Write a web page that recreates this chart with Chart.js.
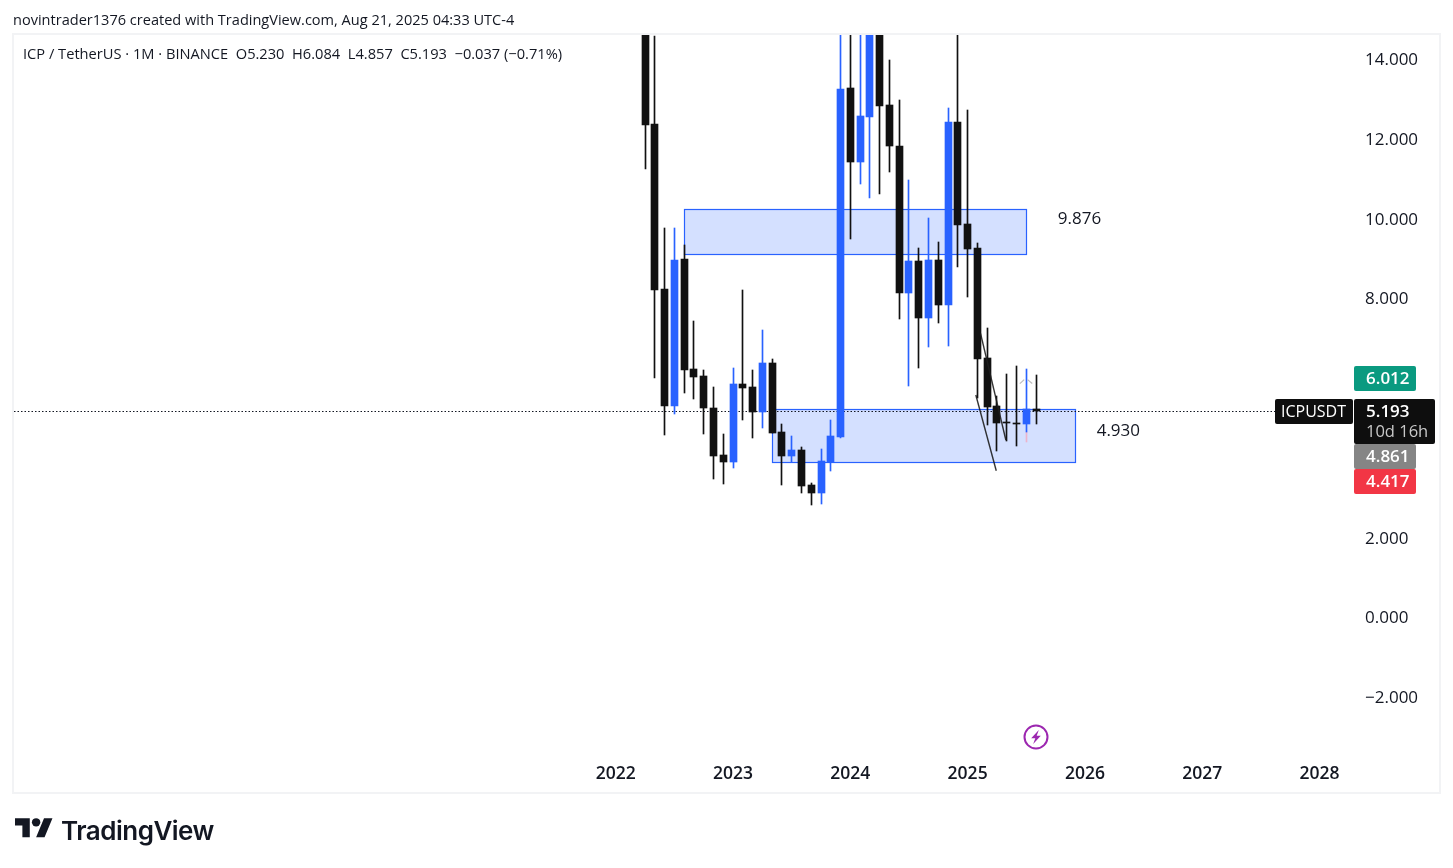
<!DOCTYPE html>
<html>
<head>
<meta charset="utf-8">
<title>ICPUSDT monthly</title>
<script src="https://cdn.jsdelivr.net/npm/chart.js@4/dist/chart.umd.min.js"></script>
<style>
  html, body { margin: 0; padding: 0; background: #fff; width: 1453px; height: 868px; overflow: hidden; }
  body { position: relative; font-family: "Open Sans", sans-serif; color: #131722; }
  #frame { position: absolute; left: 12px; top: 33px; width: 1425px; height: 757px; border: 2px solid #f2f3f5; }
  #chart { position: absolute; left: 0; top: 0; }
  .line { position: absolute; white-space: pre; line-height: 18px; }
  #credit { left: 13px; top: 10px; font-size: 14.55px; }
  #legend { left: 23px; top: 44px; font-size: 14.65px; }
  #logo { position: absolute; left: 15px; top: 816px; }
  #brand { position: absolute; left: 61px; top: 813px; font: 600 26px/36px Inter, sans-serif; letter-spacing: -0.5px; color: #131722; }
  #bolt { position: absolute; left: 1023px; top: 724px; }
</style>
</head>
<body>
<div id="frame"></div>
<canvas id="chart" width="1453" height="868"></canvas>
<div class="line" id="credit">novintrader1376 created with TradingView.com, Aug 21, 2025 04:33 UTC-4</div>
<div class="line" id="legend">ICP / TetherUS · 1M · BINANCE  O5.230  H6.084  L4.857  C5.193  −0.037 (−0.71%)</div>
<svg id="logo" width="38" height="24" viewBox="0 2 36 22.7"><path fill="#131722" d="M14 22H7V11H0V4h14v18zM28 22h-8l7.5-18h8L28 22z"/><circle fill="#131722" cx="20" cy="8" r="4"/></svg>
<div id="brand">TradingView</div>
<svg id="bolt" width="26" height="26" viewBox="0 0 26 26"><circle cx="13" cy="13" r="11.5" fill="#fff" stroke="#9c27b0" stroke-width="2"/><path fill="#9c27b0" d="M15.8 6 8.2 14.2h4.1l-2.1 5.8 7.6-8.2h-4.1z"/></svg>
<script>
// Monthly candles, ICP / TetherUS on Binance
const months = ["2022-04","2022-05","2022-06","2022-07","2022-08","2022-09","2022-10","2022-11","2022-12",
  "2023-01","2023-02","2023-03","2023-04","2023-05","2023-06","2023-07","2023-08","2023-09","2023-10","2023-11","2023-12",
  "2024-01","2024-02","2024-03","2024-04","2024-05","2024-06","2024-07","2024-08","2024-09","2024-10","2024-11","2024-12",
  "2025-01","2025-02","2025-03","2025-04","2025-05","2025-06","2025-07","2025-08"];
const opens  = [18.5,12.38,8.24,5.32,9.0,6.24,6.06,5.26,4.08,
  3.91,5.86,5.79,5.17,6.39,4.66,4.06,4.2,3.33,3.13,3.9,4.54,
  13.28,11.44,12.55,15.3,12.86,11.83,8.15,8.95,7.52,8.97,7.83,12.43,
  9.87,9.27,6.51,5.31,4.91,4.89,4.86,5.230];
const closes = [12.36,8.22,5.32,8.97,6.22,6.04,5.27,4.06,3.91,
  5.86,5.76,5.17,6.39,4.64,4.06,4.2,3.31,3.13,3.93,4.56,13.26,
  11.44,12.58,15.3,12.84,11.82,8.15,8.95,7.52,8.97,7.83,12.43,9.85,
  9.25,6.5,5.29,4.89,4.88,4.85,5.23,5.193];
const highs  = [21.0,14.59,9.78,9.78,9.35,7.44,6.21,5.79,4.61,
  6.26,8.22,6.21,7.21,6.49,4.86,4.56,4.28,3.38,4.23,4.96,16.0,
  15.5,16.0,18.0,19.0,13.99,12.99,10.98,9.27,10.03,9.42,12.78,15.5,
  12.73,9.4,7.27,5.56,6.11,6.31,6.24,6.084];
const lows   = [11.26,6.02,4.59,5.12,5.64,5.49,4.61,3.48,3.35,
  3.75,4.96,4.51,4.76,4.64,3.33,3.9,3.13,2.82,2.85,3.68,4.51,
  9.5,10.88,10.53,10.63,11.19,7.49,5.82,6.27,6.8,7.4,6.82,8.8,
  8.04,5.5,4.83,4.19,4.43,4.31,4.66,4.857];

// Pale tail under the July 2025 wick
const tailIndex = [42];
const tailRange = [4.41, 4.66];

// Supply and demand zones, in months since 2022-01 and price
const zoneStart  = [7, 16];
const zoneEnd    = [42, 47];
const zoneTop    = [10.243, 5.215];
const zoneBottom = [9.114, 3.885];

// Hand-drawn trend strokes
const strokeAIndex = [37.32, 39.91];
const strokeAPrice = [7.13, 4.455];
const strokeBIndex = [36.84, 38.93];
const strokeBPrice = [5.585, 3.685];
const arrowLeftIndex  = [41.34, 41.79];
const arrowLeftPrice  = [5.87, 5.97];
const arrowRightIndex = [42.13, 42.61];
const arrowRightPrice = [5.97, 5.87];

// Text notes on the pane
const noteText  = ["9.876", "4.930"];
const noteIndex = [47.45, 51.42];
const notePrice = [10.0, 4.68];

// Axis labels and price tags
const yearLabels = [2022, 2023, 2024, 2025, 2026, 2027, 2028];
const priceTicks = [-2, 0, 2, 4, 6, 8, 10, 12, 14];
const lastPrice = 5.193;
const countdown = "10d 16h";
const symbol = "ICPUSDT";
const highTag = 6.012;
const midTag = 4.861;
const lowTag = 4.417;

const UP = "#2962ff", DOWN = "#111111";
const FONT = '"Open Sans", sans-serif';
const monthIndex = months.map(m => { const [y, mo] = m.split("-").map(Number); return (y - 2022) * 12 + mo - 1; });
const candleColors = opens.map((o, i) => closes[i] >= o ? UP : DOWN);
const X_MIN = -61.57, X_MAX = 75.43, Y_MIN = -3.372, Y_MAX = 14.616;

const pts = (xs, ys) => xs.map((x, i) => ({ x, y: ys[i] }));
const stroke = (label, xs, ys, color, width) => ({
  type: "line", label, data: pts(xs, ys), borderColor: color, borderWidth: width,
  pointRadius: 0, tension: 0, order: 0, fill: false
});

// Zones sit under the candles
const zonesPlugin = {
  id: "zones",
  beforeDatasetsDraw(chart) {
    const { ctx, scales: { x, y } } = chart;
    ctx.save();
    zoneStart.forEach((s, i) => {
      const l = Math.floor(x.getPixelForValue(s)) + 0.5, r = Math.floor(x.getPixelForValue(zoneEnd[i])) + 0.5;
      const t = Math.floor(y.getPixelForValue(zoneTop[i])) + 0.5, b = Math.floor(y.getPixelForValue(zoneBottom[i])) + 0.5;
      ctx.fillStyle = "rgba(41,98,255,0.2)";
      ctx.fillRect(l, t, r - l, b - t);
      ctx.strokeStyle = "#2962ff";
      ctx.lineWidth = 1.2;
      ctx.strokeRect(l, t, r - l, b - t);
    });
    ctx.restore();
  }
};

// Keep candles and the price line on whole device pixels
const snapPlugin = {
  id: "snap",
  afterDatasetsUpdate(chart) {
    chart.data.datasets.forEach((ds, i) => {
      const meta = chart.getDatasetMeta(i);
      if (ds.type === "bar") {
        meta.data.forEach(el => {
          el.x = Math.floor(el.x) + 0.5;
          el.y = Math.round(el.y);
          el.base = Math.round(el.base);
          if (Math.abs(el.base - el.y) < 1) el.base = el.y + 1;
        });
      } else if (ds.label === "Last price") {
        meta.data.forEach(el => { el.y = Math.round(el.y) + 0.5; });
      }
    });
  }
};

function tag(ctx, x, y, w, h, color) {
  ctx.fillStyle = color;
  ctx.beginPath();
  ctx.roundRect(x, y, w, h, 2);
  ctx.fill();
}

// Notes and the tag column on the price axis
const overlayPlugin = {
  id: "overlay",
  afterDraw(chart) {
    const { ctx, scales: { x, y } } = chart;
    ctx.save();
    ctx.textBaseline = "middle";
    ctx.textAlign = "center";
    ctx.font = "500 17px " + FONT;
    ctx.fillStyle = "#131722";
    noteText.forEach((t, i) => ctx.fillText(t, x.getPixelForValue(noteIndex[i]), y.getPixelForValue(notePrice[i])));

    const left = 1354, w = 62, h = 25;
    const lastY = Math.round(y.getPixelForValue(lastPrice));
    const top = lastY - 12;
    const label = (text, cy, color) => { ctx.fillStyle = color; ctx.textAlign = "left"; ctx.font = "600 17px " + FONT; ctx.fillText(text, left + 12, cy); };

    const hiTop = Math.round(y.getPixelForValue(highTag)) - 12;
    tag(ctx, left, hiTop, w, h, "#0a9a80");
    label(highTag.toFixed(3), hiTop + 13, "#fff");

    tag(ctx, left - 79, top, 78, h, "#0e0e0e");
    ctx.fillStyle = "#fff"; ctx.textAlign = "left"; ctx.font = "500 16px " + FONT;
    ctx.fillText(symbol, left - 73, top + 13);

    tag(ctx, left, top + 45, w, h, "#858585");
    label(midTag.toFixed(3), top + 58, "#fff");
    tag(ctx, left, top + 70, w, h, "#f23645");
    label(lowTag.toFixed(3), top + 83, "#fff");

    tag(ctx, left, top, 81, 45, "#0e0e0e");
    label(lastPrice.toFixed(3), top + 13, "#fff");
    ctx.font = "500 16.5px " + FONT; ctx.fillStyle = "#c8c8c8";
    ctx.fillText(countdown, left + 12, top + 33);
    ctx.restore();
  }
};

new Chart(document.getElementById("chart"), {
  data: {
    datasets: [
      stroke("Stroke A", strokeAIndex, strokeAPrice, "rgba(30,30,30,0.9)", 1.4),
      stroke("Stroke B", strokeBIndex, strokeBPrice, "rgba(30,30,30,0.9)", 1.4),
      stroke("Arrow left", arrowLeftIndex, arrowLeftPrice, "#bdbdbd", 1.3),
      stroke("Arrow right", arrowRightIndex, arrowRightPrice, "#bdbdbd", 1.3),
      { type: "bar", label: "Body", data: monthIndex.map((x, i) => ({ x, y: [opens[i], closes[i]] })),
        backgroundColor: candleColors, barThickness: 7, grouped: false, order: 1 },
      { type: "bar", label: "Wick", data: monthIndex.map((x, i) => ({ x, y: [lows[i], highs[i]] })),
        backgroundColor: candleColors, barThickness: 1, grouped: false, order: 2 },
      { type: "bar", label: "Tail", data: tailIndex.map(x => ({ x, y: tailRange })),
        backgroundColor: "#ecb4cb", barThickness: 1, grouped: false, order: 2 },
      { type: "line", label: "Last price", data: pts([X_MIN, X_MAX], [lastPrice, lastPrice]),
        borderColor: "#131722", borderWidth: 1, borderDash: [1.5, 2], pointRadius: 0, order: 3 }
    ]
  },
  options: {
    responsive: false,
    animation: false,
    layout: { padding: { left: 14, top: 35, right: 13, bottom: 75 } },
    plugins: { legend: { display: false }, tooltip: { enabled: false } },
    scales: {
      x: {
        type: "linear", min: X_MIN, max: X_MAX, offset: false,
        grid: { display: false, drawTicks: false }, border: { display: false },
        afterFit(s) { s.height = 41; },
        afterBuildTicks(s) { s.ticks = yearLabels.map(y => ({ value: (y - 2022) * 12 })); },
        ticks: { autoSkip: false, maxRotation: 0, padding: 12, color: "#131722",
          font: { family: FONT, size: 17.5, weight: "600" },
          callback: v => String(2022 + v / 12) }
      },
      y: {
        type: "linear", position: "right", min: Y_MIN, max: Y_MAX,
        grid: { display: false, drawTicks: false }, border: { display: false },
        afterFit(s) {
          s.width = 87;
          // Nudge the price labels down so they sit on their levels
          if (!s._labelsNudged) {
            const draw = s.drawLabels;
            s.drawLabels = function (area) {
              const c = this.ctx;
              c.save();
              c.translate(0, 0.9);
              draw.call(this, area);
              c.restore();
            };
            s._labelsNudged = true;
          }
        },
        afterBuildTicks(s) { s.ticks = priceTicks.map(value => ({ value })); },
        ticks: { padding: 12, color: "#131722",
          font: { family: FONT, size: 17, weight: "500" },
          callback: v => (v < 0 ? "−" : "") + Math.abs(v).toFixed(3) }
      }
    }
  },
  plugins: [zonesPlugin, snapPlugin, overlayPlugin]
});
</script>
</body>
</html>
